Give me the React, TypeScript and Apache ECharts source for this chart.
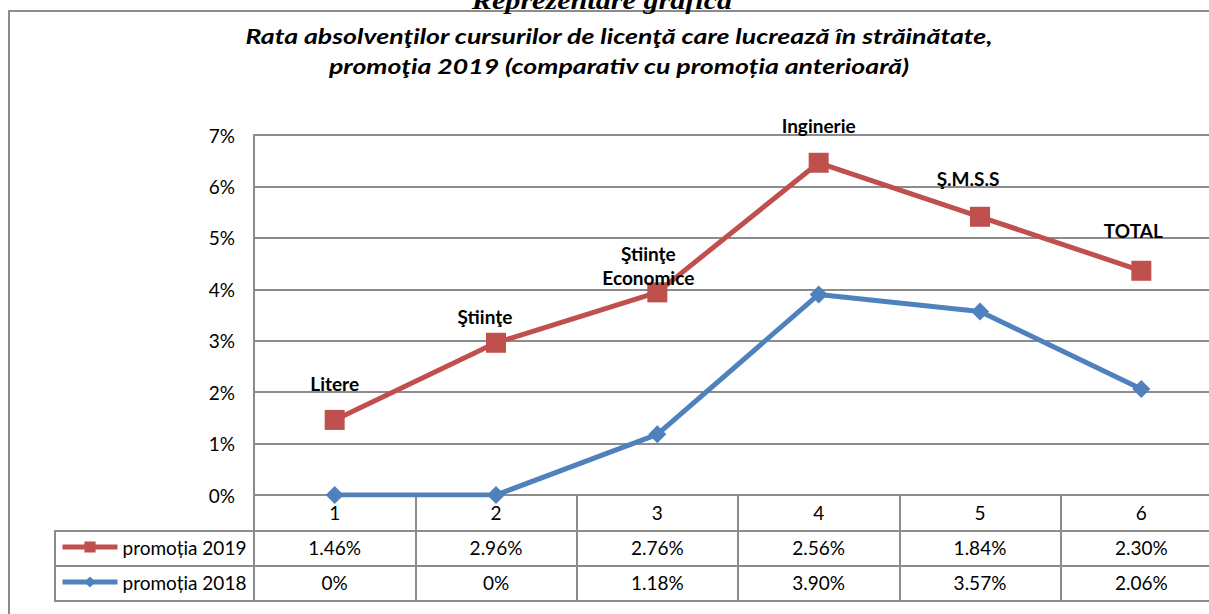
import React, { useEffect, useRef } from 'react';
import * as echarts from 'echarts';

// ---- data ----
const categories = ['1', '2', '3', '4', '5', '6'];
const faculties = ['Litere', 'Ştiinţe', 'Ştiinţe\nEconomice', 'Inginerie', 'Ş.M.S.S', 'TOTAL'];
const promotia2019 = [1.46, 2.96, 2.76, 2.56, 1.84, 2.3];
const promotia2018 = [0, 0, 1.18, 3.9, 3.57, 2.06];
const seriesNames = ['promoția 2019', 'promoția 2018'];
const yMin = 0;
const yMax = 7;
const yInterval = 1;
const pageTitle = 'Reprezentare grafică';
const chartTitle = [
  'Rata absolvenţilor cursurilor de licenţă care lucrează în străinătate,',
  'promoţia 2019 (comparativ cu promoția anterioară)',
];

// ---- styles ----
const RED = '#C0504D';
const BLUE = '#4F81BD';
const GRID = '#8c8c8c';
const FONT = 'Lato, "Noto Sans", sans-serif';
const CANVAS_W = 1240;
const labelPlacement = [
  { distance: 14, dx: 0 },
  { distance: 4, dx: -11 },
  { distance: -7, dx: -9 },
  { distance: 15, dx: 0 },
  { distance: 16, dx: -12 },
  { distance: 18, dx: -8 },
];

const fmt = (v: number) => (v === 0 ? '0%' : v.toFixed(2) + '%');

export default function App() {
  const ref = useRef<HTMLDivElement>(null);
  useEffect(() => {
    const chart = echarts.init(ref.current!, null, { renderer: 'svg' });
    const line = (x1: number, y1: number, x2: number, y2: number) => ({
      type: 'line',
      silent: true,
      shape: { x1, y1, x2, y2 },
      style: { stroke: GRID, lineWidth: 2 },
    });
    chart.setOption({
      animation: false,
      backgroundColor: '#fff',
      textStyle: { fontFamily: FONT },
      graphic: [
        {
          type: 'rect',
          silent: true,
          z: -1,
          shape: { x: 9, y: 11, width: 1300, height: 700 },
          style: { fill: 'none', stroke: GRID, lineWidth: 2 },
        },
        {
          type: 'text',
          x: 602,
          y: 13,
          scaleX: 1.16,
          style: {
            text: pageTitle,
            font: 'italic bold 26px "Liberation Serif"',
            fill: '#000',
            align: 'center',
            textAlign: 'center',
            verticalAlign: 'bottom',
            textVerticalAlign: 'bottom',
          },
        },
        {
          type: 'text',
          x: 619,
          y: 51,
          scaleX: 1.335,
          style: {
            text: chartTitle.join('\n'),
            font: 'italic bold 20px Lato',
            lineHeight: 30,
            fill: '#000',
            align: 'center',
            textAlign: 'center',
            verticalAlign: 'middle',
            textVerticalAlign: 'middle',
          },
        },
        line(54, 531, 1300, 531),
        line(54, 566, 1300, 566),
        line(54, 601, 1300, 601),
        line(55, 530, 55, 601),
      ],
      legend: {
        data: seriesNames,
        orient: 'vertical',
        left: 60,
        top: 537,
        padding: 0,
        itemWidth: 55,
        itemHeight: 14,
        itemGap: 15,
        lineStyle: { width: 5 },
        textStyle: { fontSize: 19, color: '#000', fontFamily: FONT, lineHeight: 20 },
      },
      grid: { left: 254, right: CANVAS_W - 1222, top: 135, bottom: 119, containLabel: false },
      xAxis: {
        type: 'category',
        data: categories,
        boundaryGap: true,
        axisLine: { lineStyle: { color: GRID, width: 2 } },
        axisTick: { show: true, length: 106, lineStyle: { color: GRID, width: 2 } },
        axisLabel: {
          margin: 0,
          fontSize: 19,
          color: '#000',
          lineHeight: 35,
          fontFamily: FONT,
          formatter: (value: string, idx: number) =>
            `${value}\n${fmt(promotia2019[idx])}\n${fmt(promotia2018[idx])}`,
        },
      },
      yAxis: {
        type: 'value',
        min: yMin,
        max: yMax,
        interval: yInterval,
        axisLine: { show: true, lineStyle: { color: GRID, width: 2 } },
        axisTick: { show: false },
        splitLine: { lineStyle: { color: GRID, width: 2 } },
        axisLabel: { formatter: '{value}%', fontSize: 19, color: '#000', margin: 19, fontFamily: FONT },
      },
      series: [
        {
          name: seriesNames[1],
          type: 'line',
          stack: 'total',
          data: promotia2018,
          symbol: 'diamond',
          symbolSize: 18,
          lineStyle: { color: BLUE, width: 5 },
          itemStyle: { color: BLUE },
        },
        {
          name: seriesNames[0],
          type: 'line',
          stack: 'total',
          data: promotia2019.map((v, i) => ({
            value: v,
            label: {
              show: true,
              position: 'top',
              distance: labelPlacement[i].distance,
              offset: [labelPlacement[i].dx, 0],
              formatter: faculties[i],
              fontSize: 19,
              fontWeight: 'bold',
              lineHeight: 24,
              color: '#000',
              fontFamily: FONT,
            },
          })),
          symbol: 'rect',
          symbolSize: 20,
          lineStyle: { color: RED, width: 5 },
          itemStyle: { color: RED },
        },
      ],
    });
    return () => chart.dispose();
  }, []);
  return (
    <div
      style={{
        position: 'fixed',
        left: 0,
        top: 0,
        width: 1209,
        height: 614,
        overflow: 'hidden',
        background: '#fff',
      }}
    >
      <div ref={ref} style={{ width: CANVAS_W, height: 614 }} />
    </div>
  );
}
